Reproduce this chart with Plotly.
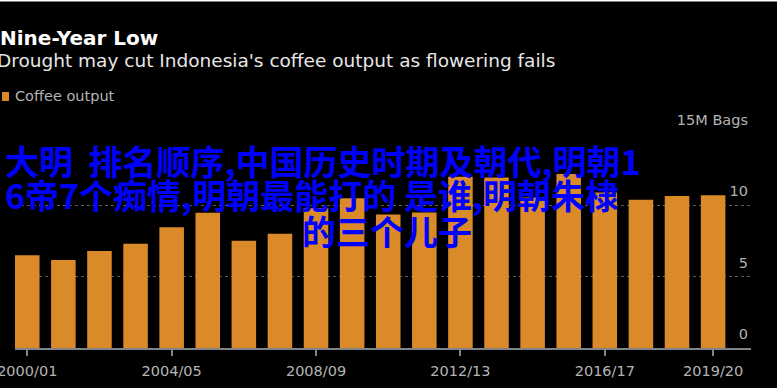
import plotly.graph_objects as go

seasons = ["2000/01", "2001/02", "2002/03", "2003/04", "2004/05", "2005/06",
           "2006/07", "2007/08", "2008/09", "2009/10", "2010/11", "2011/12",
           "2012/13", "2013/14", "2014/15", "2015/16", "2016/17", "2017/18",
           "2018/19", "2019/20"]
coffee_output = [6.5, 6.17, 6.8, 7.3, 8.47, 9.48, 7.52, 8.0, 9.8, 10.5,
                 9.35, 9.5, 12.0, 11.95, 10.55, 12.2, 10.9, 10.4, 10.65, 10.7]
x_tick_labels = ["2000/01", "2004/05", "2008/09", "2012/13", "2016/17", "2019/20"]
y_tick_values = [0, 5, 10, 15]
y_tick_labels = ["0", "5", "10", "15M Bags"]

W, H = 777, 388
L, R, T, B = 15, 26, 134, 40
PW, PH = W - L - R, H - T - B


def px(x):
    return (x - L) / PW


def py(y):
    return (H - B - y) / PH


ORANGE = "#da8a28"
GRAY = "#b4b4b4"

fig = go.Figure()
fig.add_trace(go.Bar(x=seasons, y=coffee_output, marker_color=ORANGE,
                     marker_line_width=0, name="Coffee output", showlegend=False))

fig.update_layout(
    width=W, height=H,
    margin=dict(l=L, r=R, t=T, b=B, pad=0, autoexpand=False),
    paper_bgcolor="#000000", plot_bgcolor="#000000",
    bargap=0.32,
    font=dict(family="DejaVu Sans", color=GRAY, size=14.5),
    xaxis=dict(
        type="category", range=[-0.34, 20.05], automargin=False,
        tickmode="array", tickvals=x_tick_labels, ticktext=x_tick_labels,
        showgrid=False, showline=True, linecolor="#80858c", linewidth=2,
        ticks="outside", ticklen=6, tickcolor="#80858c", tickwidth=1.5,
        ticklabelstandoff=3,
        tickfont=dict(size=14.5, color=GRAY),
    ),
    yaxis=dict(
        range=[0, 15], side="right", automargin=False,
        tickmode="array", tickvals=y_tick_values, ticktext=y_tick_labels,
        ticklabelposition="inside top", ticklabeloverflow="allow",
        ticks="", showline=False, zeroline=False,
        showgrid=True, gridcolor="#5c5c5c", griddash="dot", gridwidth=1,
        tickfont=dict(size=14.5, color=GRAY),
        ticklabelshift=-4,
    ),
)

# top white border line
fig.add_shape(type="line", xref="paper", yref="paper",
              x0=px(0), x1=px(W), y0=py(0.5), y1=py(0.5),
              line=dict(color="#ffffff", width=2))

# legend swatch
fig.add_shape(type="rect", xref="paper", yref="paper",
              x0=px(2), x1=px(9), y0=py(101), y1=py(92),
              fillcolor=ORANGE, line=dict(width=0))

CJK = dict(family="Noto Sans CJK SC", size=34, color="#0000ff", weight="bold")
annos = [
    dict(text="<b>Nine-Year Low</b>", x=px(-1), y=py(38),
         font=dict(family="DejaVu Sans", size=20, color="#ffffff")),
    dict(text="Drought may cut Indonesia's coffee output as flowering fails",
         x=px(-4), y=py(60),
         font=dict(family="DejaVu Sans", size=18.5, color="#e6e6e6")),
    dict(text="Coffee output", x=px(14), y=py(96),
         font=dict(family="DejaVu Sans", size=14.5, color=GRAY)),
    dict(text="大明  排名顺序,中国历史时期及朝代,明朝1", x=px(4), y=py(160), font=CJK),
    dict(text="6帝7个痴情,明朝最能打的 是谁,明朝朱棣", x=px(4), y=py(194), font=CJK),
    dict(text="的三个儿子", x=px(301), y=py(230), font=CJK),
]
for a in annos:
    fig.add_annotation(xref="paper", yref="paper", xanchor="left", yanchor="middle",
                       showarrow=False, borderpad=0, **a)

fig.write_html("out.html")
